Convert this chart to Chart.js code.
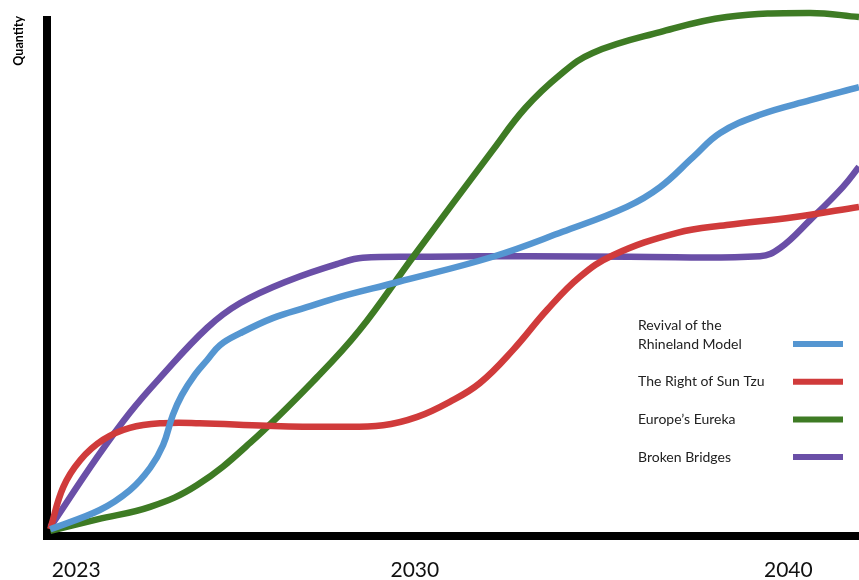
<!DOCTYPE html>
<html>
<head>
<meta charset="utf-8">
<script src="https://cdn.jsdelivr.net/npm/chart.js@4.4.1/dist/chart.umd.min.js"></script>
<style>
  html, body { margin: 0; padding: 0; background: #fff; }
  #wrap { width: 859px; height: 580px; position: relative; }
</style>
</head>
<body>
<div id="wrap"><canvas id="scenarioChart"></canvas></div>
<script>
// x is a 0-100 position along the timeline, y is relative quantity (0-100)
const tickPositions = [3.6, 45.3, 91.3];
const tickLabels = ["2023", "2030", "2040"];

const seriesNames = [
  ["Revival of the", "Rhineland Model"],
  ["The Right of Sun Tzu"],
  ["Europe\u2019s Eureka"],
  ["Broken Bridges"]
];
const seriesColors = ["#5596d1", "#d03b3b", "#3e7b24", "#6a4fa7"];

const rhinelandX = [0.4, 6.5, 10.2, 12.7, 14.3, 15.5, 16.6, 18.2, 19.7, 21.3, 23.8, 27.8, 32.0, 36.1, 43.1, 54.9, 63.5, 71.4, 75.5, 79.6, 82.9, 87.8, 94.0, 100];
const rhinelandY = [1.3, 5.0, 8.8, 13.1, 17.5, 23.3, 27.1, 31.0, 33.8, 36.7, 39.0, 41.9, 44.0, 46.0, 48.8, 53.7, 58.5, 63.3, 67.1, 72.9, 77.5, 81.0, 83.8, 86.3];

const sunTzuX = [0.4, 2.0, 4.1, 6.9, 10.2, 14.3, 18.8, 27.1, 35.2, 41.4, 45.6, 49.6, 53.3, 57.4, 61.6, 65.6, 69.7, 77.6, 83.7, 91.9, 100];
const sunTzuY = [1.3, 9.4, 14.6, 18.5, 20.8, 21.7, 21.7, 21.2, 21.0, 21.3, 22.9, 25.8, 29.4, 35.8, 43.5, 49.8, 54.0, 58.3, 59.8, 61.3, 63.3];

const eurekaX = [0.4, 6.2, 12.7, 18.5, 25.0, 33.3, 38.5, 45.1, 54.9, 58.9, 63.2, 67.2, 75.5, 83.7, 94.0, 100];
const eurekaY = [1.0, 3.2, 5.6, 9.8, 17.9, 30.6, 39.6, 53.7, 74.2, 82.3, 88.7, 92.9, 96.9, 99.8, 100.6, 99.8];

const bridgesX = [0.4, 6.2, 10.2, 13.9, 19.7, 23.8, 29.9, 36.1, 38.9, 47.2, 59.5, 71.8, 87.8, 90.3, 94.0, 98.0, 100];
const bridgesY = [1.7, 15.2, 23.7, 30.4, 40.0, 44.8, 49.2, 52.5, 53.5, 53.7, 53.8, 53.7, 53.8, 55.4, 60.8, 67.1, 71.0];

const seriesX = [rhinelandX, sunTzuX, eurekaX, bridgesX];
const seriesY = [rhinelandY, sunTzuY, eurekaY, bridgesY];

const FONT = "Lato, 'Open Sans', sans-serif";

// thick black axes with a solid corner
const axesPlugin = {
  id: "axes",
  beforeDatasetsDraw(chart) {
    const { ctx, chartArea: a } = chart;
    ctx.save();
    ctx.strokeStyle = "#000";
    ctx.lineWidth = 8;
    ctx.lineCap = "butt";
    ctx.beginPath();
    ctx.moveTo(a.left, a.top);
    ctx.lineTo(a.left, a.bottom + 4);
    ctx.moveTo(a.left - 4, a.bottom);
    ctx.lineTo(a.right, a.bottom);
    ctx.stroke();
    ctx.restore();
  }
};

// legend: text on the left, line sample on the right
const sideLegend = {
  id: "sideLegend",
  afterDraw(chart) {
    const ctx = chart.ctx;
    const textX = 638, sampleX = 793, sampleW = 50;
    let rowY = 344;
    ctx.save();
    ctx.font = "14px " + FONT;
    ctx.textBaseline = "middle";
    ctx.fillStyle = "#222";
    chart.data.datasets.forEach((ds, i) => {
      const lines = seriesNames[i];
      lines.forEach((line, j) => {
        ctx.fillText(line, textX, rowY - (lines.length - 1 - j) * 19);
      });
      ctx.strokeStyle = ds.borderColor;
      ctx.lineWidth = 6;
      ctx.beginPath();
      ctx.moveTo(sampleX, rowY);
      ctx.lineTo(sampleX + sampleW, rowY);
      ctx.stroke();
      rowY += 37.7;
    });
    ctx.restore();
  }
};

const datasets = seriesNames.map((name, i) => ({
  label: name.join(" "),
  data: seriesX[i].map((x, k) => ({ x, y: seriesY[i][k] })),
  borderColor: seriesColors[i],
  borderWidth: 6.5,
  pointRadius: 0,
  fill: false,
  tension: 0.4,
  clip: false
}));

new Chart(document.getElementById("scenarioChart"), {
  type: "line",
  data: { datasets },
  plugins: [axesPlugin, sideLegend],
  options: {
    responsive: true,
    maintainAspectRatio: false,
    animation: false,
    layout: { padding: { top: 16, left: 0, right: 0, bottom: 0 } },
    plugins: {
      legend: { display: false },
      tooltip: { enabled: false }
    },
    scales: {
      x: {
        type: "linear",
        min: 0,
        max: 100,
        grid: { display: false, drawTicks: false },
        border: { display: false },
        afterBuildTicks: (scale) => {
          scale.ticks = tickPositions.map(v => ({ value: v }));
        },
        afterFit: (scale) => { scale.height = 44; },
        ticks: {
          autoSkip: false,
          maxRotation: 0,
          padding: 22,
          color: "#111",
          font: { family: FONT, size: 21 },
          callback: (v, i) => tickLabels[i]
        }
      },
      y: {
        min: 0,
        max: 100,
        grid: { display: false, drawTicks: false },
        border: { display: false },
        ticks: { display: false },
        afterFit: (scale) => { scale.width = 47; },
        title: {
          display: true,
          text: "Quantity",
          align: "end",
          color: "#000",
          padding: { top: 11, bottom: 0 },
          font: { family: FONT, size: 12.5, weight: "bold" }
        }
      }
    }
  }
});
</script>
</body>
</html>
